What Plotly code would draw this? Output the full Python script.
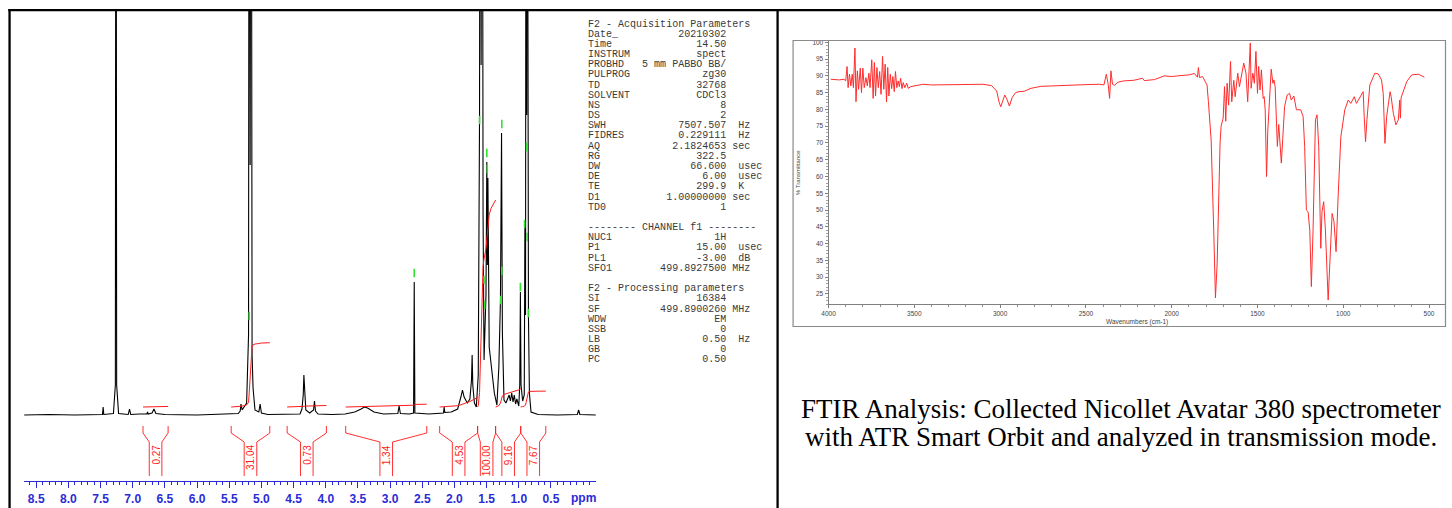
import numpy as np
import plotly.graph_objects as go

W, H = 1452, 508
# the photographed page region is slightly wider/taller than the figure; map target pixels to page pixels
OX, OY, SC = 5.74, 2.0, 0.99605


def fx(x):
    return ((x - OX) / SC) / W


def fy(y):
    return 1 - ((y - OY) / SC) / H


def fs(s):
    return s / SC


# ---------------- 1H NMR spectrum (ppm, intensity) ----------------
nmr_ppm = [8.69, 8.30, 7.90, 7.60, 7.47, 7.46, 7.45, 7.30, 7.27, 7.26, 7.25, 7.22,
           7.07, 7.05, 7.03, 6.90, 6.78, 6.77, 6.76, 6.70, 6.67, 6.64, 6.50, 6.00,
           5.60, 5.36, 5.33, 5.317, 5.30, 5.23, 5.20, 5.19, 5.175, 5.16, 5.145, 5.13,
           5.10, 5.04, 5.02, 5.00, 4.90, 4.50, 4.40, 4.37, 4.35, 4.34, 4.33, 4.31,
           4.25, 4.19, 4.175, 4.16, 4.12, 3.90, 3.70, 3.55, 3.45, 3.40, 3.35, 3.25,
           3.10, 2.88, 2.86, 2.84, 2.70, 2.635, 2.625, 2.615, 2.40, 2.17, 2.16, 2.15,
           2.05, 1.95, 1.90, 1.875, 1.85, 1.80, 1.76, 1.735, 1.725, 1.715, 1.69, 1.66,
           1.63, 1.61, 1.60, 1.585, 1.57, 1.555, 1.54, 1.51, 1.497, 1.488, 1.48, 1.46,
           1.43, 1.38, 1.34, 1.31, 1.285, 1.268, 1.255, 1.23, 1.20, 1.15, 1.13, 1.11,
           1.09, 1.07, 1.05, 1.03, 1.00, 0.985, 0.975, 0.965, 0.94, 0.915, 0.905, 0.895,
           0.886, 0.877, 0.868, 0.85, 0.835, 0.81, 0.70, 0.40, 0.09, 0.07, 0.05, -0.20]
nmr_int = [0, 0.5, 0, 0.5, 0.5, 8, 0.5, 1.5, 30, 900, 30, 1.5,
           0.5, 6, 0.5, 1, 1, 3, 1, 2, 6, 1.5, 0.5, 0,
           0.5, 1.5, 4, 11, 5, 12, 80, 900, 250, 900, 60, 27,
           5, 3, 11, 2, 0.5, 0.5, 1, 6, 20, 40, 22, 5,
           2, 5, 14, 4, 1, 0.5, 1, 3, 6, 8, 7, 3,
           1, 1.5, 9, 1.5, 1, 2, 133, 2, 1, 2, 8, 2.5,
           3, 6, 18, 25, 18, 12, 16, 35, 60, 30, 12, 8,
           40, 300, 900, 350, 900, 200, 55, 120, 253, 150, 237, 68,
           48, 22, 10, 48, 115, 282, 82, 15, 12, 20, 14, 22,
           13, 20, 11, 16, 9, 30, 123, 30, 14, 20, 190, 100,
           900, 300, 800, 100, 22, 3, 0.5, 0, 0.5, 5, 0.5, 0]

# peak-picking marks (ppm, intensity)
pick_ppm = [5.19, 2.625, 1.61, 1.497, 1.49, 1.264, 1.264, 1.28, 1.54, 1.53, 0.88, 0.91, 0.87, 0.975, 0.85]
pick_int = [99, 142, 295, 262, 246, 291, 144, 115, 135, 110, 268, 191, 178, 128, 102]

# integral regions
integral_hi = [6.84, 5.47, 4.60, 3.69, 2.23, 1.64, 1.36, 0.97]
integral_lo = [6.45, 4.87, 3.99, 2.43, 1.64, 1.36, 0.97, 0.58]
integral_val = [0.27, 31.04, 0.73, 1.34, 4.53, 100.00, 9.16, 7.67]
integral_txt = ["0.27", "31.04", "0.73", "1.34", "4.53", "100.00", "9.16", "7.67"]

ppm_tick_vals = [8.5, 8.0, 7.5, 7.0, 6.5, 6.0, 5.5, 5.0, 4.5, 4.0, 3.5, 3.0, 2.5, 2.0, 1.5, 1.0, 0.5]
ppm_tick_text = ["8.5", "8.0", "7.5", "7.0", "6.5", "6.0", "5.5", "5.0", "4.5", "4.0",
                 "3.5", "3.0", "2.5", "2.0", "1.5", "1.0", "0.5"]

# ---------------- acquisition parameters ----------------
acq_names = ["Date_", "Time", "INSTRUM", "PROBHD", "PULPROG", "TD", "SOLVENT", "NS", "DS",
             "SWH", "FIDRES", "AQ", "RG", "DW", "DE", "TE", "D1", "TD0"]
acq_values = ["20210302", "14.50", "spect", "5 mm PABBO BB/", "zg30", "32768", "CDCl3", "8", "2",
              "7507.507", "0.229111", "2.1824653", "322.5", "66.600", "6.00", "299.9", "1.00000000", "1"]
acq_units = ["", "", "", "", "", "", "", "", "", "Hz", "Hz", "sec", "", "usec", "usec", "K", "sec", ""]
chan_names = ["NUC1", "P1", "PL1", "SFO1"]
chan_values = ["1H", "15.00", "-3.00", "499.8927500"]
chan_units = ["", "usec", "dB", "MHz"]
proc_names = ["SI", "SF", "WDW", "SSB", "LB", "GB", "PC"]
proc_values = ["16384", "499.8900260", "EM", "0", "0.50", "0", "0.50"]
proc_units = ["", "MHz", "", "", "Hz", "", ""]

# ---------------- FTIR spectrum ----------------
ir_wn = [3987, 3938, 3910, 3900, 3892, 3886, 3878, 3870, 3862, 3855, 3846, 3840, 3832, 3825,
         3815, 3808, 3800, 3792, 3782, 3774, 3765, 3758, 3748, 3740, 3733, 3726, 3718, 3710,
         3702, 3694, 3685, 3678, 3670, 3662, 3655, 3648, 3640, 3632, 3625, 3617, 3610, 3602,
         3594, 3587, 3580, 3572, 3565, 3555, 3545, 3535, 3520, 3500, 3450, 3400, 3300, 3200,
         3100, 3050, 3020, 3005, 2996, 2985, 2973, 2960, 2946, 2930, 2910, 2890, 2860, 2820,
         2760, 2700, 2600, 2500, 2420, 2395, 2381, 2370, 2362, 2354, 2345, 2333, 2314, 2280,
         2220, 2170, 2160, 2100, 2043, 2000, 1965, 1900, 1868, 1850, 1844, 1838, 1820, 1809,
         1794, 1786, 1770, 1755, 1745, 1735, 1727, 1718, 1712, 1700, 1692, 1685, 1677, 1668,
         1657, 1650, 1638, 1630, 1615, 1605, 1580, 1567, 1557, 1547, 1542, 1537, 1527, 1518,
         1509, 1500, 1493, 1485, 1477, 1467, 1461, 1455, 1447, 1440, 1430, 1420, 1410, 1404,
         1397, 1384, 1376, 1369, 1361, 1353, 1342, 1327, 1313, 1303, 1288, 1273, 1248, 1234,
         1225, 1215, 1205, 1195, 1186, 1176, 1162, 1153, 1143, 1131, 1124, 1114, 1104, 1088,
         1077, 1065, 1054, 1042, 1030, 1014, 991, 971, 956, 936, 923, 903, 884, 878,
         870, 862, 845, 816, 796, 777, 767, 757, 747, 727, 721, 708, 693, 679,
         671, 667, 663, 630, 601, 562, 527]
ir_t = [89.0, 88.8, 89.0, 88.5, 92.8, 86.5, 90.5, 87.0, 90.5, 86.5, 98.3, 82.3, 91.5, 86.0,
        92.3, 85.0, 92.3, 86.5, 89.5, 87.0, 90.8, 86.5, 94.8, 83.3, 94.0, 84.0, 92.5, 86.5,
        91.3, 84.5, 95.8, 86.0, 93.5, 82.2, 92.5, 84.0, 90.5, 86.2, 89.8, 85.3, 91.3, 86.5,
        88.5, 86.8, 89.3, 86.2, 88.0, 86.5, 87.8, 86.3, 86.8, 87.0, 87.5, 87.3, 87.3, 87.5,
        87.5, 87.1, 85.5, 82.0, 80.8, 82.5, 84.3, 83.0, 81.0, 83.5, 85.0, 85.3, 85.4, 86.3,
        86.9, 87.0, 87.3, 87.4, 87.5, 87.3, 90.5, 87.5, 83.3, 91.5, 87.5, 87.2, 88.1, 88.5,
        88.7, 89.3, 88.6, 88.9, 90.0, 89.8, 90.0, 90.3, 90.7, 89.6, 92.5, 89.5, 89.8, 88.8,
        87.3, 82.3, 70.9, 44.0, 23.8, 34.0, 54.0, 70.0, 75.0, 77.4, 86.8, 76.5, 87.8, 81.3,
        94.3, 82.3, 88.7, 83.8, 90.8, 86.8, 93.8, 90.8, 82.3, 93.0, 99.8, 86.3, 90.8, 87.8,
        97.3, 84.8, 92.8, 85.8, 91.8, 83.3, 83.8, 79.9, 60.0, 73.5, 83.5, 92.0, 87.8, 88.8,
        86.8, 69.0, 75.5, 69.6, 64.0, 71.0, 80.9, 84.3, 84.8, 82.8, 84.0, 79.9, 79.9, 77.9,
        69.0, 50.0, 49.5, 44.0, 27.2, 44.0, 76.9, 78.4, 69.0, 38.6, 49.5, 52.5, 44.0, 23.2,
        34.1, 49.0, 46.5, 37.6, 54.0, 71.9, 79.9, 82.8, 81.8, 83.8, 81.8, 83.8, 85.3, 77.9,
        70.4, 76.9, 87.3, 90.8, 90.6, 88.8, 84.8, 69.9, 77.9, 85.3, 83.8, 78.8, 75.4, 76.9,
        82.8, 77.4, 83.5, 88.3, 90.3, 90.5, 89.6]
ir_tick_vals = [4000, 3500, 3000, 2500, 2000, 1500, 1000, 500]
ir_y_ticks = [25, 30, 35, 40, 45, 50, 55, 60, 65, 70, 75, 80, 85, 90, 95, 100]

caption_lines = ["FTIR Analysis: Collected Nicollet Avatar 380 spectrometer",
                 "with ATR Smart Orbit and analyzed in transmission mode."]

assert len(nmr_ppm) == len(nmr_int)
assert len(ir_wn) == len(ir_t)

BLUE = "#2b2bd6"
RED = "#ff1a1a"

fig = go.Figure()

# spectrum
fig.add_trace(go.Scatter(x=nmr_ppm, y=nmr_int, mode="lines", xaxis="x", yaxis="y",
                         line=dict(color="black", width=1.1), hoverinfo="skip"))

# integral curves (cumulative area of the spectrum inside each region)
p = np.array(nmr_ppm, dtype=float)
v = np.array(nmr_int, dtype=float)
INT_BASE, INT_SCALE = 8.0, 2.07
ix, iy = [], []
for hi, lo, val in zip(integral_hi, integral_lo, integral_val):
    m = (p < hi) & (p > lo)
    xs = np.concatenate([[hi], p[m], [lo]])
    ys = np.concatenate([[np.interp(hi, p[::-1], v[::-1])], v[m], [np.interp(lo, p[::-1], v[::-1])]])
    seg = 0.5 * (ys[1:] + ys[:-1]) * np.abs(np.diff(xs))
    cum = np.concatenate([[0.0], np.cumsum(seg)])
    curve = INT_BASE + INT_SCALE * val * cum / cum[-1]
    ix += list(xs) + [None]
    iy += list(curve) + [None]
fig.add_trace(go.Scatter(x=ix, y=iy, mode="lines", xaxis="x", yaxis="y",
                         line=dict(color=RED, width=1), hoverinfo="skip"))

# integral brackets
bx, by = [], []
for hi, lo in zip(integral_hi, integral_lo):
    c = (hi + lo) / 2
    g = min(0.098, (hi - lo) / 2 * 0.7)
    bx += [hi, hi, c + g, c + g, None, lo, lo, c - g, c - g, None]
    by += [-11, -18, -27, -61, None, -11, -18, -27, -61, None]
fig.add_trace(go.Scatter(x=bx, y=by, mode="lines", xaxis="x", yaxis="y",
                         line=dict(color=RED, width=0.9), hoverinfo="skip"))

# peak pick marks
fig.add_trace(go.Scatter(x=pick_ppm, y=pick_int, mode="markers", xaxis="x", yaxis="y",
                         marker=dict(symbol="line-ns", size=6, line=dict(color="#33e033", width=1.6)),
                         hoverinfo="skip"))

# FTIR
fig.add_trace(go.Scatter(x=ir_wn, y=ir_t, mode="lines", xaxis="x2", yaxis="y2",
                         line=dict(color="rgb(255,45,45)", width=1), hoverinfo="skip"))

annotations = []
for hi, lo, t in zip(integral_hi, integral_lo, integral_txt):
    annotations.append(dict(x=(hi + lo) / 2, y=-28, xref="x", yref="y", text=t, showarrow=False,
                            textangle=-90, xanchor="center", yanchor="top",
                            font=dict(family="Liberation Sans", size=fs(10), color=RED)))
annotations.append(dict(x=0.0, y=fy(498), xref="x", yref="paper", text="ppm", showarrow=False,
                        xanchor="center", yanchor="middle",
                        font=dict(family="Liberation Sans", size=fs(12), color=BLUE, weight="bold")))

# parameter listing
NB = "\u00a0"


def fmt(name, value, unit):
    s = name.ljust(23 - len(value)) + value
    if unit:
        gap = 1 if unit in ("sec", "MHz") else 2
        s += " " * gap + unit
    return s


lines = ["F2 - Acquisition Parameters"]
lines += [fmt(n, v_, u) for n, v_, u in zip(acq_names, acq_values, acq_units)]
lines += ["", "-------- CHANNEL f1 --------"]
lines += [fmt(n, v_, u) for n, v_, u in zip(chan_names, chan_values, chan_units)]
lines += ["", "F2 - Processing parameters"]
lines += [fmt(n, v_, u) for n, v_, u in zip(proc_names, proc_values, proc_units)]
for i, ln in enumerate(lines):
    if not ln:
        continue
    annotations.append(dict(x=fx(585.5), y=fy(24 + i * 10.18), xref="paper", yref="paper",
                            text=ln.replace(" ", NB), showarrow=False, xanchor="left", yanchor="middle",
                            font=dict(family="Liberation Mono", size=fs(10), color="#3a3a3a")))

# FTIR axis titles
annotations.append(dict(x=fx(1137), y=fy(321.5), xref="paper", yref="paper", text="Wavenumbers (cm-1)",
                        showarrow=False, xanchor="center", yanchor="middle",
                        font=dict(family="Liberation Sans", size=6.5, color="#444")))
annotations.append(dict(x=fx(797.5), y=fy(173), xref="paper", yref="paper", text="% Transmittance",
                        showarrow=False, textangle=-90, xanchor="center", yanchor="middle",
                        font=dict(family="Liberation Sans", size=6, color="#444")))

# caption
for ln, yy in zip(caption_lines, [409, 437]):
    annotations.append(dict(x=fx(1121), y=fy(yy), xref="paper", yref="paper", text=ln,
                            showarrow=False, xanchor="center", yanchor="middle",
                            font=dict(family="Liberation Serif", size=27, color="black")))

shapes = [
    dict(type="line", xref="paper", yref="paper", x0=fx(7), x1=1, y0=fy(10.2), y1=fy(10.2),
         line=dict(color="black", width=2.3)),
    dict(type="line", xref="paper", yref="paper", x0=fx(8.3), x1=fx(8.3), y0=fy(9), y1=0,
         line=dict(color="black", width=2.3)),
    dict(type="line", xref="paper", yref="paper", x0=fx(777), x1=fx(777), y0=fy(9), y1=0,
         line=dict(color="black", width=2.3)),
    dict(type="rect", xref="paper", yref="paper", x0=fx(792.5), x1=fx(1445.5), y0=fy(326.5), y1=fy(40.5),
         line=dict(color="#8a8a8a", width=1.2)),
]

fig.update_layout(
    width=W, height=H, margin=dict(l=0, r=0, t=0, b=0),
    paper_bgcolor="white", plot_bgcolor="rgba(0,0,0,0)", showlegend=False,
    xaxis=dict(domain=[fx(23), fx(595)], range=[8.686, -0.196], anchor="free", position=fy(481),
               showline=True, linecolor=BLUE, linewidth=1.2, ticks="outside", ticklen=6, tickwidth=1.2,
               tickcolor=BLUE, tickmode="array", tickvals=ppm_tick_vals, ticktext=ppm_tick_text,
               tickfont=dict(family="Liberation Sans", size=fs(12), color=BLUE, weight="bold"),
               minor=dict(tickmode="linear", tick0=0, dtick=0.1, ticks="outside", ticklen=3,
                          tickcolor=BLUE, tickwidth=1),
               showgrid=False, zeroline=False),
    yaxis=dict(domain=[fy(490), fy(10)], range=[-75, 405], visible=False, anchor="x"),
    xaxis2=dict(domain=[fx(828), fx(1445)], range=[4000, 407], anchor="y2",
                showline=True, linecolor="#808080", linewidth=1, ticks="outside", ticklen=3,
                tickcolor="#808080", tickmode="array", tickvals=ir_tick_vals,
                tickfont=dict(family="Liberation Sans", size=6.5, color="#444"),
                minor=dict(tickmode="linear", tick0=0, dtick=100, ticks="outside", ticklen=2,
                           tickcolor="#909090"),
                showgrid=False, zeroline=False),
    yaxis2=dict(domain=[fy(304), fy(41)], range=[22, 100.4], anchor="x2",
                showline=True, linecolor="#808080", linewidth=1, ticks="outside", ticklen=3,
                tickcolor="#808080", tickmode="array", tickvals=ir_y_ticks,
                tickfont=dict(family="Liberation Sans", size=6.5, color="#444"),
                minor=dict(tickmode="linear", tick0=0, dtick=1, ticks="outside", ticklen=1.5,
                           tickcolor="#a0a0a0"),
                showgrid=False, zeroline=False),
    annotations=annotations,
    shapes=shapes,
)

post = ("document.documentElement.style.margin='0';document.documentElement.style.padding='0';"
        "document.documentElement.style.overflow='hidden';"
        "document.body.style.margin='0';document.body.style.padding='0';document.body.style.overflow='hidden';"
        "var d=document.getElementById('{plot_id}');d.style.position='absolute';"
        "d.style.left='0px';d.style.top='0px';d.style.overflow='hidden';")
fig.write_html("out.html", post_script=post, config={"displayModeBar": False, "responsive": False})
